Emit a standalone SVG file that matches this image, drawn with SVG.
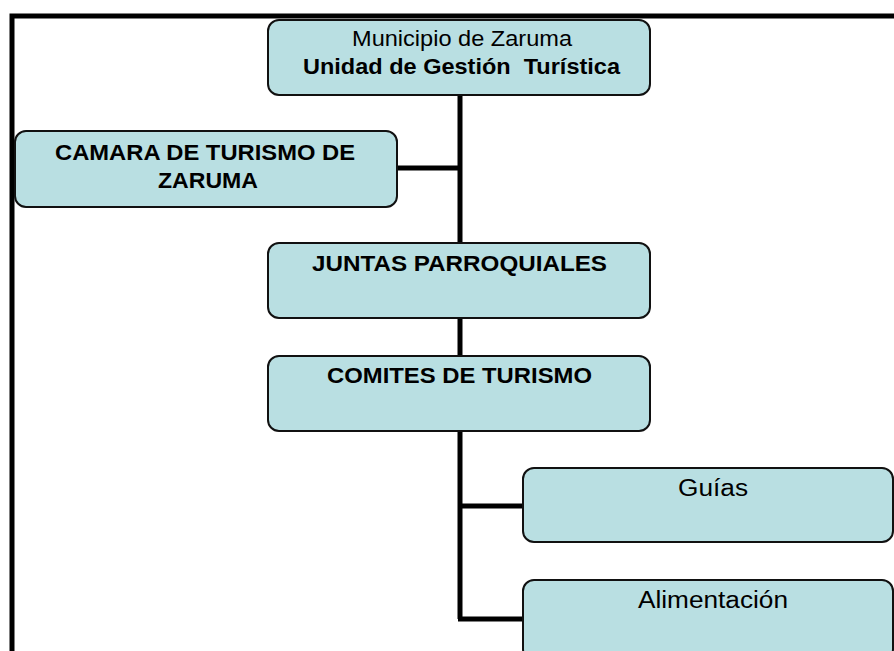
<svg xmlns="http://www.w3.org/2000/svg" width="894" height="651" viewBox="0 0 894 651">
<style>
.box{fill:#b9dfe2;stroke:#111;stroke-width:2}
.ln{fill:none;stroke:#000;stroke-width:5}
.t{font-family:"Liberation Sans",Arial,sans-serif;font-size:22.5px;fill:#000}
.b{font-weight:bold}
</style>
<rect width="894" height="651" fill="#fff"/>
<path class="ln" d="M12,660 V16 H900"/>
<g id="connectors">
<path class="ln" d="M460,95 V243"/>
<path class="ln" d="M397,168 H460"/>
<path class="ln" d="M460,318 V356"/>
<path class="ln" d="M460,431 V619 M458,506 H523 M458,619 H523"/>
</g>
<g id="n_municipio">
<rect class="box" x="268" y="20" width="382" height="75" rx="11"/>
<text class="t" x="352" y="46" textLength="220" lengthAdjust="spacingAndGlyphs">Municipio de Zaruma</text>
<text class="t b" x="303" y="74" textLength="317" lengthAdjust="spacingAndGlyphs" xml:space="preserve">Unidad de Gestión  Turística</text>
</g>
<g id="n_camara">
<rect class="box" x="15" y="131" width="382" height="76" rx="11"/>
<text class="t b" x="55" y="160" textLength="300" lengthAdjust="spacingAndGlyphs">CAMARA DE TURISMO DE</text>
<text class="t b" x="158" y="188" textLength="100" lengthAdjust="spacingAndGlyphs">ZARUMA</text>
</g>
<g id="n_juntas">
<rect class="box" x="268" y="243" width="382" height="75" rx="11"/>
<text class="t b" x="312" y="271" textLength="295" lengthAdjust="spacingAndGlyphs">JUNTAS PARROQUIALES</text>
</g>
<g id="n_comites">
<rect class="box" x="268" y="356" width="382" height="75" rx="11"/>
<text class="t b" x="327" y="383" textLength="265" lengthAdjust="spacingAndGlyphs">COMITES DE TURISMO</text>
</g>
<g id="n_guias">
<rect class="box" x="523" y="468" width="370" height="74" rx="11"/>
<text class="t" x="678" y="496" textLength="70" lengthAdjust="spacingAndGlyphs" style="font-size:23.5px">Guías</text>
</g>
<g id="n_alimentacion">
<rect class="box" x="523" y="580" width="370" height="80" rx="11"/>
<text class="t" x="638" y="608" textLength="150" lengthAdjust="spacingAndGlyphs" style="font-size:23.5px">Alimentación</text>
</g>
</svg>
